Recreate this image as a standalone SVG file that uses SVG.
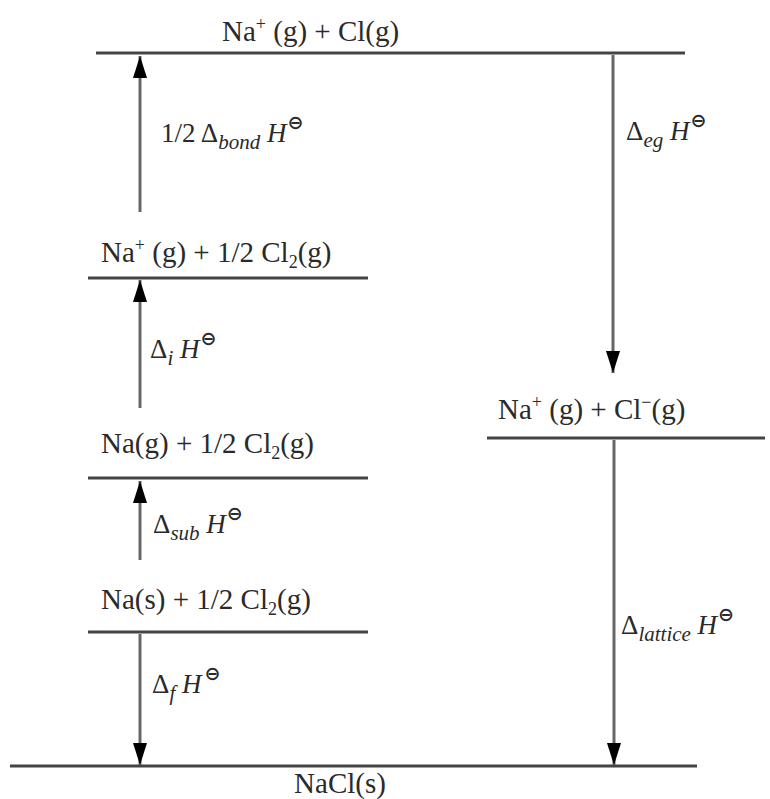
<svg xmlns="http://www.w3.org/2000/svg" width="770" height="799" viewBox="0 0 770 799">
<style>
text{font-family:"Liberation Serif","DejaVu Serif",serif;fill:#2a2a2a;}
.lvl{font-size:29px;}
.lab{font-size:27px;}
.it{font-style:italic;}
.sub{font-size:21px;font-style:italic;}
.sup{font-size:18px;}
.ln{stroke:#444;stroke-width:3;fill:none;}
.ar{stroke:#666;stroke-width:3;fill:none;}
.sym{font-family:"DejaVu Sans",sans-serif;font-size:19px;font-weight:bold;font-style:normal;}
</style>
<defs>
<marker id="ah" markerWidth="22" markerHeight="14" refX="22" refY="7" orient="auto" markerUnits="userSpaceOnUse" viewBox="0 0 22 14">
<path d="M0,0 L22,7 L0,14 Z" fill="#000"/>
</marker>
</defs>
<rect width="770" height="799" fill="#fff"/>

<g id="level-top">
<line class="ln" x1="96" y1="53" x2="685" y2="53"/>
<text class="lvl" x="222" y="41">Na<tspan class="sup" dy="-11">+</tspan><tspan dy="11"> (g) + Cl(g)</tspan></text>
</g>
<g id="level-na-ion-half-cl2">
<line class="ln" x1="88" y1="278" x2="368" y2="278"/>
<text class="lvl" x="101" y="262">Na<tspan class="sup" dy="-11">+</tspan><tspan dy="11"> (g) + 1/2 Cl</tspan><tspan class="sup" dy="6">2</tspan><tspan dy="-6">(g)</tspan></text>
</g>
<g id="level-na-g">
<line class="ln" x1="88" y1="478" x2="368" y2="478"/>
<text class="lvl" x="101" y="453">Na(g) + 1/2 Cl<tspan class="sup" dy="6">2</tspan><tspan dy="-6">(g)</tspan></text>
</g>
<g id="level-na-s">
<line class="ln" x1="88" y1="632" x2="368" y2="632"/>
<text class="lvl" x="101" y="609">Na(s) + 1/2 Cl<tspan class="sup" dy="6">2</tspan><tspan dy="-6">(g)</tspan></text>
</g>
<g id="level-ions">
<line class="ln" x1="487" y1="438" x2="765" y2="438"/>
<text class="lvl" x="498" y="419">Na<tspan class="sup" dy="-11">+</tspan><tspan dy="11"> (g) +  Cl</tspan><tspan class="sup" dy="-11">−</tspan><tspan dy="11">(g)</tspan></text>
</g>
<g id="level-nacl">
<line class="ln" x1="10" y1="766" x2="697" y2="766"/>
<text class="lvl" x="340" y="793" text-anchor="middle">NaCl(s)</text>
</g>

<g id="connectors">
<line class="ar" x1="140" y1="212" x2="140" y2="56" marker-end="url(#ah)"/>
<line class="ar" x1="140" y1="408" x2="140" y2="280" marker-end="url(#ah)"/>
<line class="ar" x1="140" y1="560" x2="140" y2="481" marker-end="url(#ah)"/>
<line class="ar" x1="140" y1="634" x2="140" y2="765" marker-end="url(#ah)"/>
<line class="ar" x1="613" y1="55" x2="613" y2="373" marker-end="url(#ah)"/>
<line class="ar" x1="614" y1="440" x2="614" y2="765" marker-end="url(#ah)"/>
</g>

<g id="labels">
<text class="lab" x="161" y="142">1/2 Δ<tspan class="sub" dy="7">bond</tspan><tspan class="it" dy="-7"> H</tspan><tspan class="sym" dx="1" dy="-13">⊖</tspan></text>
<text class="lab" x="626" y="140">Δ<tspan class="sub" dy="7">eg</tspan><tspan class="it" dy="-7"> H</tspan><tspan class="sym" dx="1" dy="-13">⊖</tspan></text>
<text class="lab" x="150" y="358">Δ<tspan class="sub" dy="7">i</tspan><tspan class="it" dy="-7"> H</tspan><tspan class="sym" dx="1" dy="-13">⊖</tspan></text>
<text class="lab" x="153" y="533">Δ<tspan class="sub" dy="7">sub</tspan><tspan class="it" dy="-7"> H</tspan><tspan class="sym" dx="1" dy="-13">⊖</tspan></text>
<text class="lab" x="152" y="693">Δ<tspan class="sub" dy="7">f</tspan><tspan class="it" dy="-7"> H</tspan><tspan class="sym" dx="3" dy="-13">⊖</tspan></text>
<text class="lab" x="621" y="634">Δ<tspan class="sub" dy="7">lattice</tspan><tspan class="it" dy="-7"> H</tspan><tspan class="sym" dx="1" dy="-13">⊖</tspan></text>
</g>
</svg>
